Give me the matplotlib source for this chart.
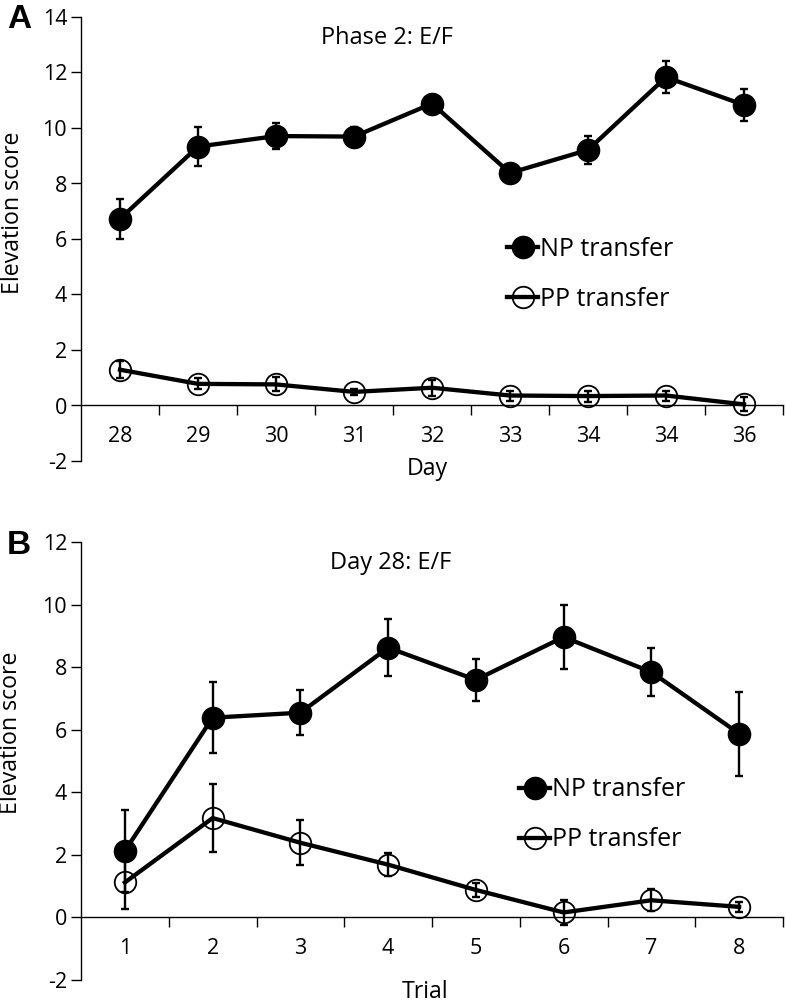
import matplotlib
matplotlib.use("Agg")
import matplotlib.pyplot as plt
import numpy as np

plt.rcParams['font.family'] = ['Open Sans', 'DejaVu Sans']

# Panel A data
days = ["28", "29", "30", "31", "32", "33", "34", "34", "36"]
np_a = [6.73, 9.33, 9.71, 9.69, 10.88, 8.38, 9.21, 11.83, 10.83]
np_a_err = [0.72, 0.71, 0.47, 0.33, 0.15, 0.2, 0.49, 0.57, 0.57]
pp_a = [1.29, 0.78, 0.76, 0.49, 0.64, 0.36, 0.34, 0.36, 0.04]
pp_a_err = [0.3, 0.2, 0.25, 0.1, 0.28, 0.18, 0.2, 0.18, 0.25]

# Panel B data
trials = ["1", "2", "3", "4", "5", "6", "7", "8"]
np_b = [2.13, 6.39, 6.55, 8.63, 7.6, 8.97, 7.85, 5.88]
np_b_err = [1.31, 1.14, 0.72, 0.92, 0.68, 1.02, 0.76, 1.34]
pp_b = [1.12, 3.18, 2.39, 1.69, 0.88, 0.16, 0.55, 0.34]
pp_b_err = [0.84, 1.1, 0.72, 0.36, 0.22, 0.39, 0.35, 0.15]

W, H = 786, 1005
fig = plt.figure(figsize=(W / 100, H / 100), dpi=100)

TICK_FS = 15.5
LABEL_FS = 16.7
TITLE_FS = 17
LEG_FS = 18


def px_axes(l, t, r, b):
    return fig.add_axes([l / W, 1 - b / H, (r - l) / W, (b - t) / H])


def style_axes(ax, cats, ylim, yticks):
    n = len(cats)
    x = np.arange(n) + 0.5
    ax.set_xlim(0, n)
    ax.set_ylim(*ylim)
    ax.spines['top'].set_visible(False)
    ax.spines['right'].set_visible(False)
    ax.spines['bottom'].set_position(('data', 0))
    for s in ('left', 'bottom'):
        ax.spines[s].set_linewidth(1.0)
    ax.set_yticks(yticks)
    ax.set_yticklabels([str(v) for v in yticks])
    ax.set_xticks(np.arange(1, n + 1))
    ax.set_xticklabels([])
    ax.set_xticks(x, minor=True)
    ax.set_xticklabels(cats, minor=True)
    ax.tick_params(axis='x', which='major', direction='out', length=7, width=1.0)
    ax.tick_params(axis='x', which='minor', length=0, pad=15, labelsize=TICK_FS)
    ax.tick_params(axis='y', direction='out', length=7, width=1.0, pad=3,
                   labelsize=TICK_FS)
    return x


def draw_series(ax, x, vals, errs, filled, label):
    ax.errorbar(x, vals, yerr=errs, fmt='none', ecolor='black', elinewidth=1.7,
                capsize=3, capthick=1.7, zorder=2)
    if filled:
        ax.plot(x, vals, '-o', color='black', lw=3.1, ms=16, mfc='black', mec='black',
                label=label, zorder=3)
    else:
        ax.plot(x, vals, '-o', color='black', lw=3.1, ms=15.5, mfc='none', mec='black',
                mew=1.3, label=label, zorder=3)


def legend(ax, left_px, center_px):
    ax.legend(loc='center left', bbox_to_anchor=(left_px / W, 1 - center_px / H),
              bbox_transform=fig.transFigure, frameon=False, fontsize=LEG_FS,
              handlelength=1.25, handletextpad=0.08, labelspacing=1.0,
              borderpad=0, borderaxespad=0)


# Panel A
axA = px_axes(81, 17, 783, 461)
xA = style_axes(axA, days, (-2, 14), list(range(-2, 15, 2)))
draw_series(axA, xA, np_a, np_a_err, True, "NP transfer")
draw_series(axA, xA, pp_a, pp_a_err, False, "PP transfer")
axA.set_ylabel("Elevation score", fontsize=LABEL_FS)
axA.yaxis.set_label_coords(-0.080, 0.559)
axA.set_xlabel("Day", fontsize=LABEL_FS)
axA.xaxis.label.set_va('baseline')
axA.xaxis.set_label_coords(0.493, -0.0315)
axA.text(387 / W, 1 - 38 / H, "Phase 2: E/F", transform=fig.transFigure,
         ha='center', va='center', fontsize=TITLE_FS)
fig.text(7 / W, 1 - 20 / H, "A", fontsize=24, fontweight='bold',
         family='Liberation Sans', ha='left', va='center')
legend(axA, 507, 274)

# Panel B
axB = px_axes(81, 542.3, 783, 980)
xB = style_axes(axB, trials, (-2, 12), list(range(-2, 13, 2)))
draw_series(axB, xB, np_b, np_b_err, True, "NP transfer")
draw_series(axB, xB, pp_b, pp_b_err, False, "PP transfer")
axB.set_ylabel("Elevation score", fontsize=LABEL_FS)
axB.yaxis.set_label_coords(-0.0826, 0.564)
axB.set_xlabel("Trial", fontsize=LABEL_FS)
axB.xaxis.label.set_va('baseline')
axB.xaxis.set_label_coords(0.49, -0.041)
axB.text(391 / W, 1 - 563 / H, "Day 28: E/F", transform=fig.transFigure,
         ha='center', va='center', fontsize=TITLE_FS)
fig.text(7 / W, 1 - 546 / H, "B", fontsize=24, fontweight='bold',
         family='Liberation Sans', ha='left', va='center')
legend(axB, 519, 815)

fig.savefig("out.png", dpi=100)
